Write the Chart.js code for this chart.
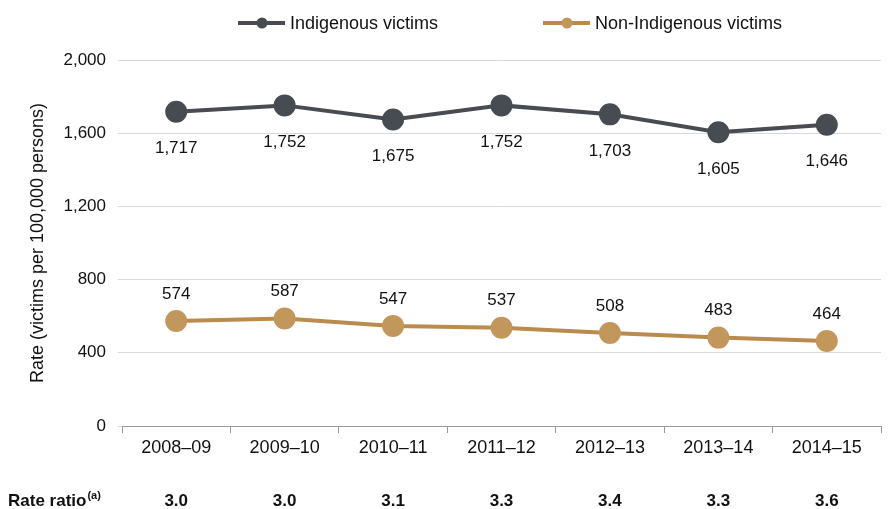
<!DOCTYPE html>
<html>
<head>
<meta charset="utf-8">
<script src="https://cdn.jsdelivr.net/npm/chart.js@4"></script>
<style>
  html, body { margin: 0; padding: 0; background: #fff; }
  #wrap { width: 888px; height: 509px; position: relative; }
</style>
</head>
<body>
<div id="wrap"><canvas id="rateChart" width="888" height="509"></canvas></div>
<script>
const years = ['2008–09', '2009–10', '2010–11', '2011–12', '2012–13', '2013–14', '2014–15'];
const indigenousRates = [1717, 1752, 1675, 1752, 1703, 1605, 1646];
const nonIndigenousRates = [574, 587, 547, 537, 508, 483, 464];
const rateRatios = ['3.0', '3.0', '3.1', '3.3', '3.4', '3.3', '3.6'];
const yTicks = [0, 400, 800, 1200, 1600, 2000];

const DARK = '#474b52';
const TAN = '#ba8b4e';
const TAN_FILL = '#c2975c';
const FONT = '"Liberation Sans", Arial, sans-serif';

const fmt = v => v.toLocaleString('en-US');

// value labels, legend and the rate ratio row
const extras = {
    id: 'extras',
    afterDatasetsDraw(chart) {
        const ctx = chart.ctx;
        ctx.save();
        ctx.font = '17px ' + FONT;
        ctx.fillStyle = '#111';
        ctx.textAlign = 'center';
        ctx.textBaseline = 'middle';
        chart.getDatasetMeta(0).data.forEach((pt, i) => {
            ctx.fillText(fmt(indigenousRates[i]), pt.x, pt.y + 37);
        });
        chart.getDatasetMeta(1).data.forEach((pt, i) => {
            ctx.fillText(fmt(nonIndigenousRates[i]), pt.x, pt.y - 27);
        });

        // legend
        const items = [
            { label: 'Indigenous victims', color: DARK, fill: DARK, x: 238 },
            { label: 'Non-Indigenous victims', color: TAN, fill: TAN_FILL, x: 543 }
        ];
        ctx.textAlign = 'left';
        ctx.font = '18px ' + FONT;
        items.forEach(it => {
            ctx.strokeStyle = it.color;
            ctx.lineWidth = 4;
            ctx.beginPath();
            ctx.moveTo(it.x, 23);
            ctx.lineTo(it.x + 47, 23);
            ctx.stroke();
            ctx.fillStyle = it.fill;
            ctx.beginPath();
            ctx.arc(it.x + 24, 23, 5.5, 0, Math.PI * 2);
            ctx.fill();
            ctx.fillStyle = '#111';
            ctx.fillText(it.label, it.x + 52, 24);
        });

        // rate ratio row
        const xs = chart.scales.x;
        ctx.font = 'bold 17px ' + FONT;
        ctx.fillStyle = '#111';
        ctx.textAlign = 'left';
        ctx.fillText('Rate ratio', 8, 501);
        const w = ctx.measureText('Rate ratio').width;
        ctx.font = 'bold 11px ' + FONT;
        ctx.fillText('(a)', 8 + w + 1, 496);
        ctx.font = 'bold 17px ' + FONT;
        ctx.textAlign = 'center';
        rateRatios.forEach((r, i) => {
            ctx.fillText(r, xs.getPixelForValue(i), 501);
        });
        ctx.restore();
    }
};

new Chart(document.getElementById('rateChart'), {
    type: 'line',
    data: {
        labels: years,
        datasets: [{
            label: 'Indigenous victims',
            data: indigenousRates,
            borderColor: DARK,
            backgroundColor: DARK,
            pointBackgroundColor: DARK,
            pointBorderColor: DARK,
            borderWidth: 4,
            pointRadius: 9,
            tension: 0
        }, {
            label: 'Non-Indigenous victims',
            data: nonIndigenousRates,
            borderColor: TAN,
            backgroundColor: TAN_FILL,
            pointBackgroundColor: TAN_FILL,
            pointBorderColor: TAN_FILL,
            borderWidth: 4,
            pointRadius: 9,
            tension: 0
        }]
    },
    options: {
        responsive: false,
        animation: false,
        layout: { autoPadding: false, padding: { top: 60, right: 7, bottom: 0, left: 0 } },
        plugins: {
            legend: { display: false },
            tooltip: { enabled: false }
        },
        scales: {
            x: {
                offset: true,
                afterFit: axis => { axis.height = 83; },
                grid: {
                    offset: true,
                    display: true,
                    drawOnChartArea: false,
                    drawTicks: true,
                    tickLength: 7,
                    color: '#999'
                },
                border: { color: '#999', width: 1 },
                ticks: { color: '#111', font: { family: FONT, size: 18 }, padding: 4 }
            },
            y: {
                min: 0,
                max: 2000,
                afterFit: axis => { axis.width = 122; },
                afterBuildTicks: axis => { axis.ticks = yTicks.map(v => ({ value: v })); },
                grid: { color: '#d9d9d9', lineWidth: 1, tickLength: 4, drawTicks: true },
                border: { display: false },
                title: {
                    display: true,
                    text: 'Rate (victims per 100,000 persons)',
                    color: '#111',
                    font: { family: FONT, size: 18 },
                    padding: { top: 27, bottom: 0 }
                },
                ticks: {
                    color: '#111',
                    font: { family: FONT, size: 17 },
                    padding: 12,
                    callback: v => fmt(v)
                }
            }
        }
    },
    plugins: [extras]
});
</script>
</body>
</html>
